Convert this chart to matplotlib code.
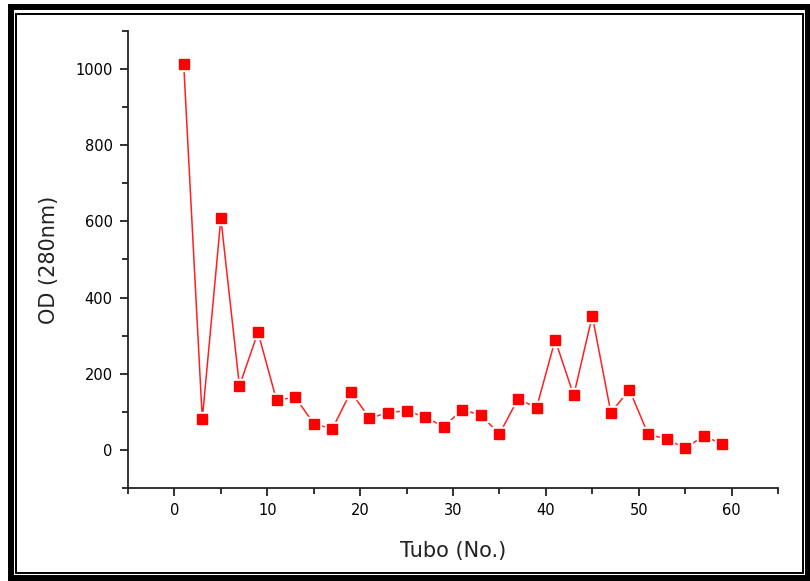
import matplotlib.pyplot as plt
from matplotlib.patches import Rectangle

# tubo number and absorbance at 280 nm
tubo = [1, 3, 5, 7, 9, 11, 13, 15, 17, 19, 21, 23, 25, 27, 29,
        31, 33, 35, 37, 39, 41, 43, 45, 47, 49, 51, 53, 55, 57, 59]
od = [1013, 81, 608, 168, 309, 130, 139, 69, 55, 153, 83, 98, 103, 86, 61,
      106, 91, 42, 134, 111, 289, 143, 352, 98, 158, 42, 28, 5, 36, 16]

x_ticks = [0, 10, 20, 30, 40, 50, 60]
y_ticks = [0, 200, 400, 600, 800, 1000]

W, H = 810, 581
fig = plt.figure(figsize=(W / 100, H / 100), dpi=100)
ax = fig.add_axes([128 / W, 1 - 488 / H, (778 - 128) / W, (488 - 31) / H])

# line, then white squares to open small gaps, then the red squares
ax.plot(tubo, od, color='#ff2020', lw=1.1, zorder=2)
ax.plot(tubo, od, ls='none', marker='s', ms=10.5, mfc='white', mec='white', zorder=3)
ax.plot(tubo, od, ls='none', marker='s', ms=6.6, mfc='#ff0000', mec='#ff0000', zorder=4)

ax.set_xlim(-5, 65)
ax.set_ylim(-100, 1100)
ax.set_xticks(x_ticks)
ax.set_yticks(y_ticks)
ax.set_xticks(range(-5, 66, 10), minor=True)
ax.set_yticks(range(-100, 1101, 200), minor=True)

for s in ['top', 'right']:
    ax.spines[s].set_visible(False)
for s in ['left', 'bottom']:
    ax.spines[s].set_linewidth(1.3)
    ax.spines[s].set_color('#222222')

ax.tick_params(which='major', direction='out', length=6, width=1.3, color='#222222',
               labelsize=10.5, pad=5)
ax.tick_params(which='minor', direction='out', length=4, width=1.3, color='#222222')

ax.set_xlabel('Tubo (No.)', fontsize=15, labelpad=16, color='#222222')
ax.set_ylabel('OD (280nm)', fontsize=15, labelpad=12, color='#222222')

# double frame around the picture
fig.add_artist(Rectangle((11 / W, 1 - 578 / H), (808 - 11) / W, (578 - 7) / H,
                         transform=fig.transFigure, fill=False, ec='black', lw=4.3))
fig.add_artist(Rectangle((16 / W, 1 - 573 / H), (803 - 16) / W, (573 - 13.5) / H,
                         transform=fig.transFigure, fill=False, ec='black', lw=1.4))

fig.savefig('out.png', dpi=100)
